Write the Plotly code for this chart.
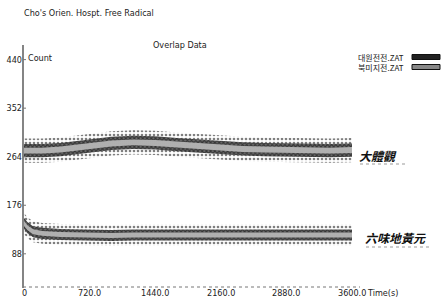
import plotly.graph_objects as go

# ---- data ----
time_s = [0, 40, 100, 200, 400, 720, 960, 1200, 1440, 1680, 1920, 2160, 2400, 2640, 2880, 3120, 3360, 3600]
upper_center = [275, 275, 275, 275, 277, 283, 288, 290, 289, 286, 283, 280, 278, 277, 276, 275, 275, 276]
lower_center = [143, 135, 128, 125, 123, 122, 121, 122, 122, 121, 122, 122, 121, 122, 122, 122, 122, 122]
upper_core = 12
upper_spread = 22
lower_core = 10
lower_spread = 19

x_ticks = [0, 720, 1440, 2160, 2880, 3600]
x_tick_text = ["0", "720.0", "1440.0", "2160.0", "2880.0", "3600.0"]
y_ticks = [88, 176, 264, 352, 440]
y_tick_text = ["88", "176", "264", "352", "440"]

title_text = "Cho's Orien. Hospt. Free Radical"
subtitle_text = "Overlap Data"
legend_names = ["대원전전.ZAT", "북미지전.ZAT"]
series_labels = ["大體觀", "六味地黃元"]

# ---- layout geometry ----
W, H = 444, 299
L, R, T, B = 24, 92, 45, 11
PW, PH = W - L - R, H - T - B


def px(x):
    return (x - L) / PW


def py(y):
    return (H - B - y) / PH


fig = go.Figure()


def band(center, half, pattern):
    lo = [c - half for c in center]
    hi = [c + half for c in center]
    fig.add_trace(go.Scatter(x=time_s, y=lo, mode="lines", line=dict(width=0, color="rgba(0,0,0,0)"),
                             showlegend=False, hoverinfo="skip"))
    fig.add_trace(go.Scatter(x=time_s, y=hi, mode="lines", line=dict(width=0, color="rgba(0,0,0,0)"),
                             fill="tonexty", fillcolor="rgba(0,0,0,0)", fillpattern=pattern,
                             showlegend=False, hoverinfo="skip"))


for center, core, spread in [(upper_center, upper_core, upper_spread), (lower_center, lower_core, lower_spread)]:
    band(center, spread, dict(shape=".", size=4, solidity=0.35, fgcolor="#000000", bgcolor="rgba(0,0,0,0)"))
    band(center, core, dict(shape="x", size=3, solidity=0.6, fgcolor="#000000", bgcolor="#6a6a6a"))
    band(center, core * 0.45, dict(shape=".", size=2, solidity=0.4, fgcolor="#444444", bgcolor="#c8c8c8"))

fig.update_layout(
    width=W, height=H,
    margin=dict(l=L, r=R, t=T, b=B, pad=0),
    paper_bgcolor="white", plot_bgcolor="white",
    showlegend=False,
    font=dict(family="Liberation Sans Narrow, DejaVu Sans Condensed, Liberation Sans, sans-serif",
              size=9, color="#222222"),
    xaxis=dict(range=[0, 3600], showticklabels=False, showgrid=False,
               zeroline=False, showline=False, ticks="", automargin=False),
    yaxis=dict(range=[26, 466.5], tickvals=y_ticks, ticktext=y_tick_text, showgrid=False,
               zeroline=False, showline=False, ticks="", automargin=False,
               tickfont=dict(size=9, color="#222222"), ticklabelstandoff=1),
)

# x tick labels placed on the x scale, just under the axis
for v, t in zip(x_ticks, x_tick_text):
    fig.add_annotation(text=t, xref="x", yref="paper", x=v, y=py(292.5), xanchor="center",
                       yanchor="middle", showarrow=False, font=dict(size=9, color="#222222"))

# axes lines
fig.add_shape(type="line", xref="paper", yref="paper", x0=px(23), x1=px(23), y0=py(288), y1=py(45),
              line=dict(color="#333333", width=1.2))
fig.add_shape(type="line", xref="paper", yref="paper", x0=px(23), x1=px(360), y0=py(287), y1=py(287),
              line=dict(color="#777777", width=1, dash="dot"))
for v in y_ticks:
    fig.add_shape(type="line", xref="paper", yref="y", x0=px(23), x1=px(27), y0=v, y1=v,
                  line=dict(color="#777777", width=1, dash="dot"))

# texts
fig.add_annotation(text=title_text, xref="paper", yref="paper", x=px(22), y=py(13),
                   xanchor="left", yanchor="middle", showarrow=False, font=dict(size=9))
fig.add_annotation(text=subtitle_text, xref="paper", yref="paper", x=px(180), y=py(45),
                   xanchor="center", yanchor="middle", showarrow=False, font=dict(size=9))
fig.add_annotation(text="Count", xref="paper", yref="paper", x=px(26), y=py(58),
                   xanchor="left", yanchor="middle", showarrow=False, font=dict(size=9))
fig.add_annotation(text="Time(s)", xref="paper", yref="paper", x=px(365), y=py(292.5),
                   xanchor="left", yanchor="middle", showarrow=False, font=dict(size=9))

# legend (text then swatch)
kr_font = "Noto Sans CJK KR, sans-serif"
for i, (name, sw) in enumerate(zip(legend_names, ["#222222", "#888888"])):
    yy = 57 + i * 10
    fig.add_annotation(text=name, xref="paper", yref="paper", x=px(406), y=py(yy),
                       xanchor="right", yanchor="middle", showarrow=False, height=10,
                       font=dict(size=8, family=kr_font, color="#222222"))
    fig.add_shape(type="rect", xref="paper", yref="paper", x0=px(412), x1=px(440),
                  y0=py(yy - 2.5), y1=py(yy + 2.5), fillcolor=sw, line=dict(color="#111111", width=1))

# series labels with faint underline
cjk = "Noto Sans CJK TC, sans-serif"
for label, cx, cy, ux0, ux1, uy in [(series_labels[0], 378, 155, 360, 405, 164),
                                    (series_labels[1], 395, 237, 366, 432, 247)]:
    fig.add_annotation(text="<b><i>" + label + "</i></b>", xref="paper", yref="paper", x=px(cx), y=py(cy),
                       xanchor="center", yanchor="middle", showarrow=False,
                       font=dict(size=12, family=cjk, color="#111111"))
    fig.add_shape(type="line", xref="paper", yref="paper", x0=px(ux0), x1=px(ux1), y0=py(uy), y1=py(uy),
                  line=dict(color="#999999", width=1, dash="dot"))

fig.write_html("out.html", config={"displayModeBar": False},
               post_script="document.body.style.margin='0';document.body.style.overflow='hidden';")
